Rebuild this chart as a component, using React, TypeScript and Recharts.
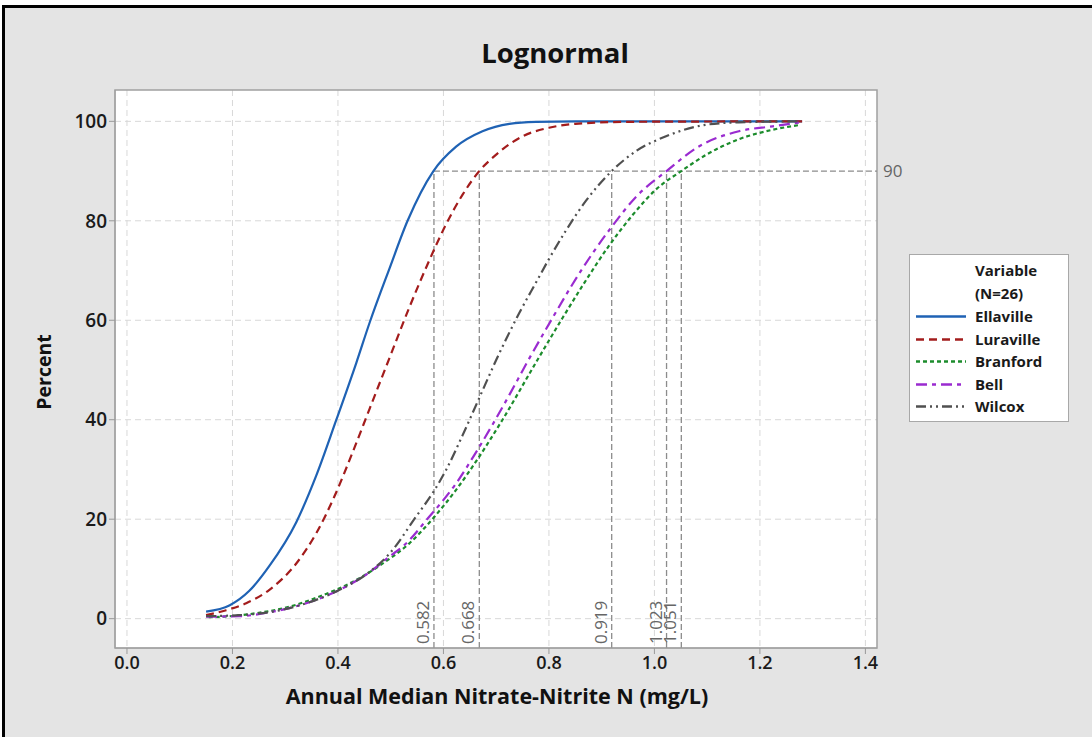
import React from "react";
import {
  LineChart,
  Line,
  XAxis,
  YAxis,
  CartesianGrid,
  ReferenceLine,
  ReferenceArea,
} from "recharts";

// ---- Data ----
const ellavilleX = [0.15, 0.195, 0.232, 0.27, 0.321, 0.359, 0.397, 0.435, 0.46, 0.498, 0.532, 0.581, 0.624, 0.674, 0.725, 0.775, 0.85, 1.0, 1.28];
const ellavilleP = [1.4, 2.7, 5.6, 10.6, 19.4, 28.8, 40.0, 51.5, 59.5, 70.5, 80.0, 90.0, 94.9, 98.0, 99.5, 99.9, 100, 100, 100];

const luravilleX = [0.15, 0.188, 0.226, 0.27, 0.321, 0.359, 0.393, 0.428, 0.46, 0.498, 0.535, 0.573, 0.605, 0.636, 0.668, 0.7, 0.75, 0.8, 0.85, 0.95, 1.28];
const luravilleP = [0.7, 1.7, 3.1, 5.8, 11.1, 17.2, 24.5, 33.5, 42.2, 52.5, 62.5, 72.0, 79.3, 85.2, 90.0, 93.3, 97.0, 98.7, 99.5, 99.9, 100];

const branfordX = [0.155, 0.182, 0.245, 0.308, 0.371, 0.435, 0.485, 0.535, 0.583, 0.624, 0.668, 0.712, 0.777, 0.826, 0.864, 0.914, 0.959, 1.003, 1.051, 1.097, 1.16, 1.224, 1.277];
const branfordP = [0.3, 0.4, 1.1, 2.4, 4.7, 7.8, 11.1, 15.1, 20.5, 25.9, 32.6, 40.0, 51.8, 60.5, 67.0, 75.0, 81.2, 86.3, 90.0, 93.2, 96.4, 98.3, 99.3];

const bellX = [0.15, 0.213, 0.276, 0.34, 0.403, 0.447, 0.498, 0.529, 0.573, 0.598, 0.624, 0.662, 0.693, 0.725, 0.76, 0.807, 0.845, 0.883, 0.917, 0.965, 1.023, 1.085, 1.16, 1.224, 1.277];
const bellP = [0.4, 0.5, 1.4, 3.1, 5.8, 8.4, 12.5, 15.1, 20.5, 23.6, 27.2, 33.5, 39.0, 45.0, 51.8, 60.5, 67.3, 73.5, 78.5, 84.8, 90.0, 95.0, 98.0, 99.0, 99.8];

const wilcoxX = [0.15, 0.213, 0.276, 0.34, 0.403, 0.46, 0.498, 0.548, 0.581, 0.605, 0.636, 0.668, 0.7, 0.744, 0.775, 0.8, 0.832, 0.87, 0.919, 0.965, 1.022, 1.097, 1.16, 1.277];
const wilcoxP = [0.5, 0.7, 1.4, 3.1, 5.8, 9.4, 13.1, 20.5, 25.5, 29.9, 36.8, 44.4, 52.0, 61.5, 67.5, 72.3, 78.0, 84.0, 90.0, 94.0, 97.0, 99.3, 99.8, 100];

const seriesNames = ["Ellaville", "Luraville", "Branford", "Bell", "Wilcox"];
const seriesColors = ["#1f62b4", "#a31c1c", "#1c8c2c", "#9a2bd0", "#505050"];
const seriesDash = ["", "8 5", "4 3", "11 5 4 5", "10 4 2 4 2 4"];

const refX = [0.582, 0.668, 0.919, 1.023, 1.051];
const refLabels = ["0.582", "0.668", "0.919", "1.023", "1.051"];
const refPercent = 90;

const xTicks = [0, 0.2, 0.4, 0.6, 0.8, 1.0, 1.2, 1.4];
const yTicks = [0, 20, 40, 60, 80, 100];
const xDomain = [-0.0227, 1.422];
const yDomain = [-5.9, 106.3];

const toRows = (xs: number[], ps: number[]) => xs.map((x, i) => ({ x, p: ps[i] }));
const seriesData = [
  toRows(ellavilleX, ellavilleP),
  toRows(luravilleX, luravilleP),
  toRows(branfordX, branfordP),
  toRows(bellX, bellP),
  toRows(wilcoxX, wilcoxP),
];

const FONT = "'Open Sans', 'Noto Sans', sans-serif";
const REF_COLOR = "#8c8c8c";

const VLabel = (props: any) => {
  const vb = props.viewBox || {};
  const bottom = (vb.y ?? 0) + (vb.height ?? 0);
  const x = (vb.x ?? 0) - 5;
  const y = bottom - 4;
  return (
    <text
      x={x}
      y={y}
      transform={`rotate(-90 ${x} ${y})`}
      textAnchor="start"
      fontFamily={FONT}
      fontSize={17}
      fill="#666"
    >
      {props.text}
    </text>
  );
};

const HLabel = (props: any) => {
  const vb = props.viewBox || {};
  const x = (vb.x ?? 0) + (vb.width ?? 0) + 6;
  const y = (vb.y ?? 0) + 6;
  return (
    <text x={x} y={y} fontFamily={FONT} fontSize={17} fill="#666">
      {props.text}
    </text>
  );
};

const CustomLegend = () => (
  <div
    style={{
      position: "absolute",
      left: 909,
      top: 254,
      width: 160,
      height: 168,
      background: "#fff",
      border: "1px solid #a8a8a8",
      boxSizing: "border-box",
      fontFamily: FONT,
      fontWeight: 700,
      fontSize: 15,
      color: "#1a1a1a",
    }}
  >
    <div style={{ position: "absolute", left: 65, top: 4, lineHeight: "22px" }}>Variable</div>
    <div style={{ position: "absolute", left: 65, top: 27, lineHeight: "22px" }}>(N=26)</div>
    {seriesNames.map((n, i) => (
      <div key={n} style={{ position: "absolute", left: 0, top: 50 + i * 22.5, height: 22, width: 158 }}>
        <svg width={60} height={22} style={{ position: "absolute", left: 0, top: 0 }}>
          <line
            x1={6}
            x2={56}
            y1={11.5}
            y2={11.5}
            stroke={seriesColors[i]}
            strokeWidth={2.5}
            strokeDasharray={seriesDash[i] || undefined}
          />
        </svg>
        <div style={{ position: "absolute", left: 65, top: 0, lineHeight: "22px" }}>{n}</div>
      </div>
    ))}
  </div>
);

export default function App() {
  return (
    <div
      style={{
        position: "fixed",
        left: 0,
        top: 0,
        width: 1092,
        height: 737,
        overflow: "hidden",
        background: "#fff",
      }}
    >
      <div
        style={{
          position: "absolute",
          left: 2,
          top: 5,
          width: 1100,
          height: 750,
          background: "#e4e4e4",
          borderLeft: "3px solid #000",
          borderTop: "3px solid #000",
        }}
      />
      <div
        style={{
          position: "absolute",
          left: 0,
          width: 1092,
          top: 35,
          textAlign: "center",
          paddingLeft: 18,
          boxSizing: "border-box",
          fontFamily: FONT,
          fontWeight: 700,
          fontSize: 27.5,
          color: "#111",
          lineHeight: "36px",
        }}
      >
        Lognormal
      </div>
      <div
        style={{
          position: "absolute",
          left: 230,
          width: 534,
          top: 682,
          textAlign: "center",
          fontFamily: FONT,
          fontWeight: 700,
          fontSize: 21.5,
          color: "#111",
          lineHeight: "28px",
          whiteSpace: "nowrap",
        }}
      >
        Annual Median Nitrate-Nitrite N (mg/L)
      </div>
      <div
        style={{
          position: "absolute",
          left: 44 - 60,
          top: 372 - 14,
          width: 120,
          textAlign: "center",
          transform: "rotate(-90deg)",
          fontFamily: FONT,
          fontWeight: 700,
          fontSize: 19.5,
          color: "#111",
          lineHeight: "28px",
        }}
      >
        Percent
      </div>
      <div style={{ position: "absolute", left: 0, top: 0 }}>
        <LineChart width={1092} height={737} margin={{ top: 90, right: 215, left: 55, bottom: 49 }}>
          <CartesianGrid
            stroke="#d8d8d8"
            strokeDasharray="6 4"
            fill="#ffffff"
            verticalValues={xTicks}
            horizontalValues={yTicks}
          />
          <XAxis
            type="number"
            dataKey="x"
            domain={xDomain}
            ticks={xTicks}
            allowDataOverflow
            height={40}
            tickFormatter={(v: number) => v.toFixed(1)}
            tick={{ fontFamily: FONT, fontSize: 18, fontWeight: 600, fill: "#1a1a1a" }}
            tickSize={6}
            tickLine={{ stroke: "#999" }}
            axisLine={{ stroke: "#a0a0a0" }}
          />
          <YAxis
            type="number"
            dataKey="p"
            domain={yDomain}
            ticks={yTicks}
            allowDataOverflow
            width={60}
            tick={{ fontFamily: FONT, fontSize: 19, fontWeight: 600, fill: "#1a1a1a" }}
            tickSize={6}
            tickLine={{ stroke: "#999" }}
            axisLine={{ stroke: "#a0a0a0" }}
          />
          <ReferenceArea
            x1={xDomain[0]}
            x2={xDomain[1]}
            y1={yDomain[0]}
            y2={yDomain[1]}
            fill="none"
            stroke="#a0a0a0"
            strokeWidth={1.5}
          />
          {refX.map((v, i) => (
            <ReferenceLine
              key={"r" + i}
              segment={[
                { x: v, y: yDomain[0] },
                { x: v, y: refPercent },
              ]}
              stroke={REF_COLOR}
              strokeWidth={1.3}
              strokeDasharray="6 3"
              label={<VLabel text={refLabels[i]} />}
            />
          ))}
          <ReferenceLine
            segment={[
              { x: refX[0], y: refPercent },
              { x: xDomain[1], y: refPercent },
            ]}
            stroke={REF_COLOR}
            strokeWidth={1.3}
            strokeDasharray="6 3"
            label={<HLabel text={String(refPercent)} />}
          />
          {seriesNames.map((n, i) => (
            <Line
              key={n}
              name={n}
              data={seriesData[i]}
              dataKey="p"
              type="monotone"
              stroke={seriesColors[i]}
              strokeWidth={2.2}
              strokeDasharray={seriesDash[i] || undefined}
              dot={false}
              activeDot={false}
              isAnimationActive={false}
            />
          ))}
        </LineChart>
      </div>
      <CustomLegend />
    </div>
  );
}
